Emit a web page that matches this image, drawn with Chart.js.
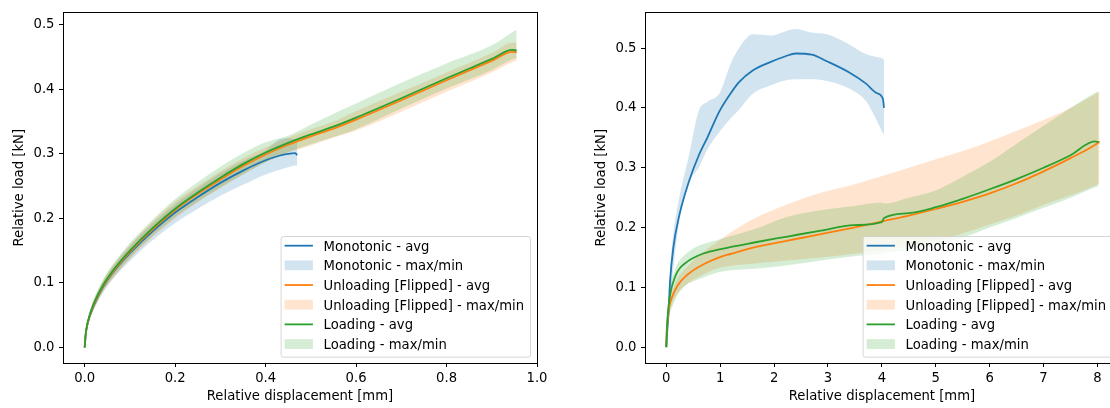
<!DOCTYPE html>
<html>
<head>
<meta charset="utf-8">
<script src="https://cdn.jsdelivr.net/npm/chart.js@4/dist/chart.umd.min.js"></script>
<style>
    html, body {
        margin: 0;
        padding: 0;
        background: #ffffff;
        width: 1110px;
        height: 408px;
        overflow: hidden;
    }
    body { position: relative; }
    canvas { position: absolute; top: 0; }
    #leftChart { left: 0; }
    #rightChart { left: 582px; }
</style>
</head>
<body>

<canvas id="leftChart" width="555" height="408"></canvas>
<canvas id="rightChart" width="555" height="408"></canvas>

<script>
/* ===============================
   DATA - LEFT PANEL
=============================== */

const leftMonoX   = [0, 0.002, 0.005, 0.01, 0.02, 0.04, 0.06, 0.1, 0.15, 0.2, 0.25, 0.3, 0.35, 0.4, 0.43, 0.45, 0.465, 0.47];
const leftMonoAvg = [0, 0.019, 0.032, 0.046, 0.065, 0.093, 0.114, 0.146, 0.18, 0.209, 0.233, 0.255, 0.274, 0.29, 0.297, 0.300, 0.301, 0.298];
const leftMonoMax = [0, 0.022, 0.036, 0.051, 0.072, 0.101, 0.123, 0.157, 0.192, 0.222, 0.247, 0.27, 0.289, 0.305, 0.322, 0.324, 0.322, 0.32];
const leftMonoMin = [0, 0.016, 0.028, 0.041, 0.058, 0.084, 0.104, 0.134, 0.166, 0.193, 0.215, 0.235, 0.252, 0.268, 0.275, 0.279, 0.282, 0.282];

const leftUnlX   = [0, 0.002, 0.005, 0.01, 0.02, 0.04, 0.06, 0.1, 0.15, 0.2, 0.25, 0.3, 0.35, 0.4, 0.45, 0.5, 0.55, 0.6, 0.7, 0.8, 0.9, 0.945, 0.955];
const leftUnlAvg = [0, 0.019, 0.033, 0.047, 0.066, 0.094, 0.115, 0.148, 0.183, 0.213, 0.238, 0.26, 0.281, 0.299, 0.314, 0.327, 0.339, 0.353, 0.383, 0.414, 0.444, 0.458, 0.457];
const leftUnlMax = [0, 0.023, 0.038, 0.053, 0.073, 0.103, 0.125, 0.159, 0.195, 0.226, 0.25, 0.273, 0.293, 0.31, 0.325, 0.338, 0.35, 0.366, 0.396, 0.426, 0.456, 0.472, 0.472];
const leftUnlMin = [0, 0.015, 0.028, 0.041, 0.059, 0.086, 0.105, 0.137, 0.171, 0.2, 0.225, 0.247, 0.268, 0.287, 0.302, 0.313, 0.325, 0.336, 0.365, 0.396, 0.426, 0.442, 0.444];

const leftLoadX   = [0, 0.002, 0.005, 0.01, 0.02, 0.04, 0.06, 0.1, 0.15, 0.2, 0.25, 0.3, 0.35, 0.4, 0.45, 0.5, 0.55, 0.6, 0.7, 0.8, 0.9, 0.945, 0.955];
const leftLoadAvg = [0, 0.02, 0.034, 0.048, 0.068, 0.096, 0.117, 0.150, 0.185, 0.215, 0.240, 0.263, 0.284, 0.302, 0.317, 0.330, 0.342, 0.356, 0.386, 0.417, 0.447, 0.461, 0.460];
const leftLoadMax = [0, 0.024, 0.039, 0.054, 0.075, 0.105, 0.127, 0.162, 0.198, 0.23, 0.256, 0.28, 0.301, 0.318, 0.328, 0.345, 0.362, 0.378, 0.41, 0.44, 0.468, 0.488, 0.492];
const leftLoadMin = [0, 0.016, 0.029, 0.042, 0.061, 0.088, 0.107, 0.139, 0.173, 0.202, 0.226, 0.248, 0.268, 0.287, 0.303, 0.315, 0.326, 0.338, 0.37, 0.401, 0.43, 0.446, 0.448];

/* ===============================
   DATA - RIGHT PANEL
=============================== */

const rightMonoX   = [0, 0.02, 0.04, 0.07, 0.13, 0.24, 0.42, 0.6, 0.76, 0.99, 1.2, 1.35, 1.61, 1.94, 2.2, 2.4, 2.7, 2.98, 3.38, 3.7, 3.9, 4.02, 4.04];
const rightMonoAvg = [0, 0.03, 0.055, 0.11, 0.166, 0.22, 0.277, 0.32, 0.35, 0.395, 0.425, 0.443, 0.463, 0.477, 0.486, 0.491, 0.489, 0.478, 0.46, 0.441, 0.425, 0.415, 0.40];
const rightMonoMax = [0, 0.04, 0.07, 0.13, 0.19, 0.25, 0.32, 0.395, 0.41, 0.425, 0.475, 0.50, 0.523, 0.521, 0.528, 0.532, 0.526, 0.523, 0.507, 0.49, 0.485, 0.482, 0.48];
const rightMonoMin = [0, 0.02, 0.04, 0.08, 0.13, 0.21, 0.275, 0.30, 0.33, 0.36, 0.383, 0.397, 0.424, 0.438, 0.446, 0.448, 0.448, 0.445, 0.433, 0.412, 0.38, 0.358, 0.356];

const rightUnlX   = [0, 0.01, 0.02, 0.05, 0.1, 0.21, 0.39, 0.7, 1.01, 1.2, 1.63, 2.25, 2.87, 3.48, 4.04, 4.5, 5, 5.5, 6, 6.5, 7, 7.5, 8, 8.04];
const rightUnlAvg = [0, 0.028, 0.04, 0.065, 0.082, 0.103, 0.121, 0.139, 0.151, 0.156, 0.167, 0.178, 0.189, 0.2, 0.211, 0.22, 0.231, 0.243, 0.257, 0.274, 0.294, 0.316, 0.341, 0.344];
const rightUnlMax = [0, 0.032, 0.045, 0.072, 0.09, 0.115, 0.135, 0.16, 0.18, 0.192, 0.215, 0.239, 0.258, 0.272, 0.287, 0.3, 0.314, 0.328, 0.344, 0.362, 0.38, 0.40, 0.425, 0.427];
const rightUnlMin = [0, 0.02, 0.032, 0.055, 0.07, 0.09, 0.106, 0.122, 0.133, 0.136, 0.14, 0.145, 0.15, 0.156, 0.163, 0.17, 0.178, 0.19, 0.205, 0.22, 0.238, 0.254, 0.272, 0.274];

const rightLoadX   = [0, 0.01, 0.02, 0.05, 0.1, 0.145, 0.2, 0.27, 0.39, 0.5, 0.7, 1.01, 1.63, 2.25, 2.87, 3.48, 4.0, 4.04, 4.5, 5, 5.5, 6, 6.5, 7, 7.5, 7.95, 8.02];
const rightLoadAvg = [0, 0.03, 0.045, 0.075, 0.1, 0.113, 0.125, 0.134, 0.143, 0.149, 0.157, 0.164, 0.175, 0.185, 0.195, 0.204, 0.209, 0.216, 0.224, 0.234, 0.248, 0.264, 0.281, 0.3, 0.321, 0.344, 0.343];
const rightLoadMax = [0, 0.035, 0.052, 0.085, 0.113, 0.125, 0.138, 0.148, 0.158, 0.165, 0.173, 0.181, 0.197, 0.218, 0.229, 0.236, 0.242, 0.24, 0.25, 0.262, 0.285, 0.31, 0.34, 0.37, 0.4, 0.425, 0.428];
const rightLoadMin = [0, 0.02, 0.03, 0.05, 0.065, 0.075, 0.086, 0.095, 0.105, 0.11, 0.117, 0.126, 0.131, 0.137, 0.145, 0.152, 0.156, 0.157, 0.162, 0.17, 0.183, 0.2, 0.216, 0.233, 0.25, 0.267, 0.269];

/* ===============================
   TICKS AND LABELS
=============================== */

const leftXTicks  = [0, 0.2, 0.4, 0.6, 0.8, 1.0];
const rightXTicks = [0, 1, 2, 3, 4, 5, 6, 7, 8];
const yTicks      = [0, 0.1, 0.2, 0.3, 0.4, 0.5];

const legendLabels = [
    "Monotonic - avg",
    "Monotonic - max/min",
    "Unloading [Flipped] - avg",
    "Unloading [Flipped] - max/min",
    "Loading - avg",
    "Loading - max/min"
];

const xTitle = "Relative displacement [mm]";
const yTitle = "Relative load [kN]";

/* ===============================
   STYLE
=============================== */

const BLUE = "#1f77b4";
const ORANGE = "#ff7f0e";
const GREEN = "#2ca02c";

const BLUE_FILL = "rgba(31,119,180,0.2)";
const ORANGE_FILL = "rgba(255,127,14,0.2)";
const GREEN_FILL = "rgba(44,160,44,0.2)";

const FONT = { family: "'DejaVu Sans'", size: 13.2 };

Chart.defaults.font.family = "'DejaVu Sans'";
Chart.defaults.color = "#000000";

/* ===============================
   DATASET BUILDER
=============================== */

function pts(xs, ys) {
    return xs.map((x, i) => ({ x: x, y: ys[i] }));
}

function series(xs, avg, max, min, color, fillColor, order) {

    return [
        {
            data: pts(xs, avg),
            borderColor: color,
            borderWidth: 1.8,
            pointRadius: 0,
            fill: false,
            cubicInterpolationMode: "monotone",
            order: order
        },
        {
            data: pts(xs, max),
            borderColor: "rgba(0,0,0,0)",
            borderWidth: 0,
            pointRadius: 0,
            fill: false,
            cubicInterpolationMode: "monotone",
            order: order
        },
        {
            data: pts(xs, min),
            borderColor: "rgba(0,0,0,0)",
            borderWidth: 0,
            backgroundColor: fillColor,
            pointRadius: 0,
            fill: "-1",
            cubicInterpolationMode: "monotone",
            order: order
        }
    ];

}

/* ===============================
   PLUGINS: FRAME + LEGEND
=============================== */

const framePlugin = {
    id: "frame",
    afterDatasetsDraw(chart) {
        const a = chart.chartArea;
        const ctx = chart.ctx;
        ctx.save();
        ctx.strokeStyle = "#000000";
        ctx.lineWidth = 1;
        ctx.strokeRect(Math.round(a.left) + 0.5, Math.round(a.top) + 0.5,
            Math.round(a.right - a.left), Math.round(a.bottom - a.top));
        ctx.restore();
    }
};

const legendPlugin = {
    id: "boxLegend",
    afterDraw(chart) {

        const ctx = chart.ctx;
        const a = chart.chartArea;
        const kinds = ["line", "patch", "line", "patch", "line", "patch"];
        const colors = [BLUE, BLUE_FILL, ORANGE, ORANGE_FILL, GREEN, GREEN_FILL];

        ctx.save();
        ctx.font = FONT.size + "px " + FONT.family;

        const textW = Math.max(...legendLabels.map(t => ctx.measureText(t).width));
        const boxW = 43 + textW + 6;
        const boxH = 120.7;
        const right = a.right - 7;
        const bottom = a.bottom - 6.3;
        const left = right - boxW;
        const top = bottom - boxH;

        ctx.beginPath();
        ctx.roundRect(left + 0.5, top + 0.5, boxW, boxH, 2.5);
        ctx.fillStyle = "rgba(255,255,255,0.8)";
        ctx.fill();
        ctx.strokeStyle = "rgba(204,204,204,0.8)";
        ctx.lineWidth = 1;
        ctx.stroke();

        legendLabels.forEach((label, i) => {

            const hy = top + 9.7 + i * 19.67;

            if (kinds[i] === "line") {
                ctx.strokeStyle = colors[i];
                ctx.lineWidth = 1.8;
                ctx.beginPath();
                ctx.moveTo(left + 4, hy);
                ctx.lineTo(left + 32.3, hy);
                ctx.stroke();
            } else {
                ctx.fillStyle = colors[i];
                ctx.fillRect(left + 4, hy - 4.9, 28.3, 9.8);
            }

            ctx.fillStyle = "#000000";
            ctx.textBaseline = "alphabetic";
            ctx.textAlign = "left";
            ctx.fillText(label, left + 43, hy + 5);

        });

        ctx.restore();
    }
};

/* ===============================
   CHART FACTORY
=============================== */

function makeChart(canvasId, datasets, xMin, xMax, xTicks, xFmt, yMin, yMax) {

    return new Chart(document.getElementById(canvasId), {

        type: "line",

        data: { datasets: datasets },

        plugins: [framePlugin, legendPlugin],

        options: {

            responsive: false,
            animation: false,
            events: [],

            layout: {
                padding: { left: 0, right: 18, top: 10, bottom: 0 }
            },

            plugins: {
                legend: { display: false },
                tooltip: { enabled: false },
                filler: { drawTime: "beforeDatasetsDraw", propagate: false }
            },

            scales: {

                x: {
                    type: "linear",
                    min: xMin,
                    max: xMax,
                    afterFit: s => { s.height = 45; },
                    afterBuildTicks: s => { s.ticks = xTicks.map(v => ({ value: v })); },
                    ticks: {
                        callback: xFmt,
                        font: FONT,
                        color: "#000000",
                        padding: 4,
                        maxRotation: 0,
                        autoSkip: false
                    },
                    grid: {
                        drawOnChartArea: false,
                        tickLength: 4,
                        tickColor: "#000000"
                    },
                    border: { color: "#000000", width: 1 },
                    title: {
                        display: true,
                        text: xTitle,
                        font: FONT,
                        color: "#000000",
                        padding: { top: 0, bottom: 3.5 }
                    }
                },

                y: {
                    type: "linear",
                    min: yMin,
                    max: yMax,
                    afterFit: s => { s.width = 63; },
                    afterBuildTicks: s => { s.ticks = yTicks.map(v => ({ value: v })); },
                    ticks: {
                        callback: v => v.toFixed(1),
                        font: FONT,
                        color: "#000000",
                        padding: 4.5
                    },
                    grid: {
                        drawOnChartArea: false,
                        tickLength: 4,
                        tickColor: "#000000"
                    },
                    border: { color: "#000000", width: 1 },
                    title: {
                        display: true,
                        text: yTitle,
                        font: FONT,
                        color: "#000000",
                        padding: { top: 12, bottom: 0 }
                    }
                }

            }

        }

    });

}

/* ===============================
   BUILD BOTH PANELS
=============================== */

const leftSets = [].concat(
    series(leftMonoX, leftMonoAvg, leftMonoMax, leftMonoMin, BLUE, BLUE_FILL, 3),
    series(leftUnlX, leftUnlAvg, leftUnlMax, leftUnlMin, ORANGE, ORANGE_FILL, 2),
    series(leftLoadX, leftLoadAvg, leftLoadMax, leftLoadMin, GREEN, GREEN_FILL, 1)
);

const rightSets = [].concat(
    series(rightMonoX, rightMonoAvg, rightMonoMax, rightMonoMin, BLUE, BLUE_FILL, 3),
    series(rightUnlX, rightUnlAvg, rightUnlMax, rightUnlMin, ORANGE, ORANGE_FILL, 2),
    series(rightLoadX, rightLoadAvg, rightLoadMax, rightLoadMin, GREEN, GREEN_FILL, 1)
);

makeChart("leftChart", leftSets, -0.048, 1.0, leftXTicks, v => v.toFixed(1), -0.024, 0.519);

makeChart("rightChart", rightSets, -0.395, 8.40, rightXTicks, v => String(v), -0.0265, 0.5597);
</script>

</body>
</html>
